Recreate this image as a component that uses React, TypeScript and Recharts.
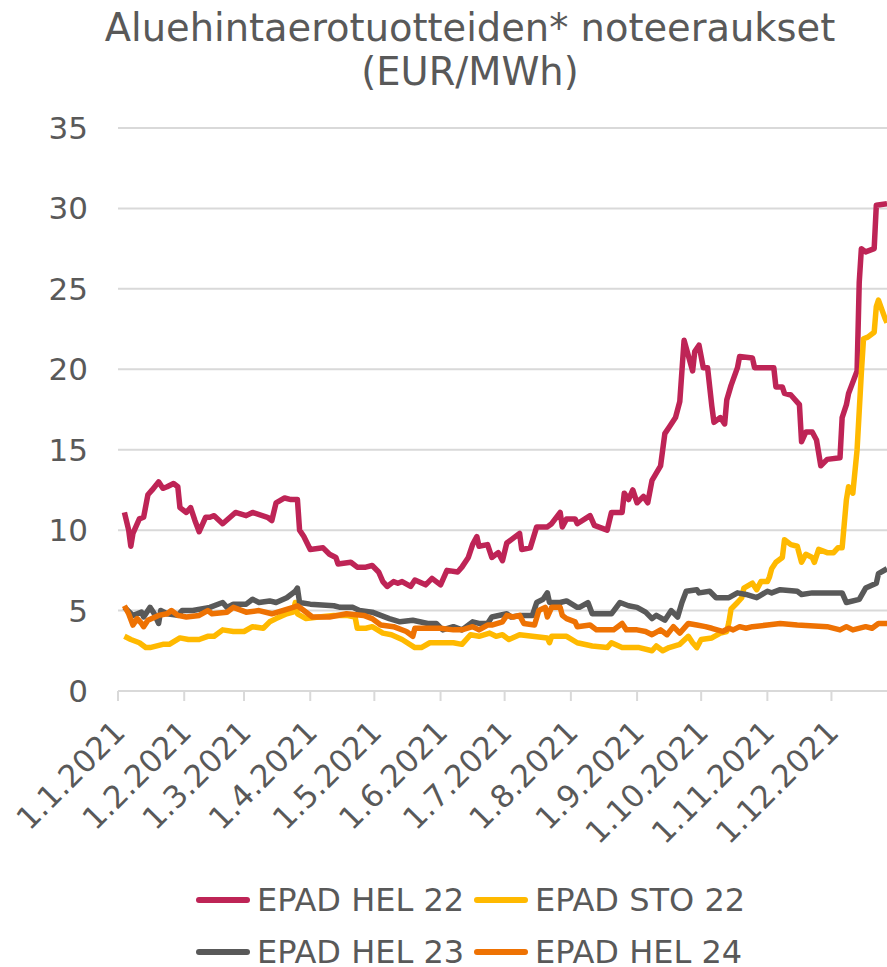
import React from 'react';
import { LineChart, Line, XAxis, YAxis, CartesianGrid } from 'recharts';

// day of year 2021 (0 = 1.1.) and quote in EUR/MWh
const hel22: [number, number][] = [
  [3, 11.1], [5, 10.0], [6, 9.0], [7, 9.8], [10, 10.7], [12, 10.8], [14, 12.2], [16, 12.5], [19, 13.0], [21, 12.6],
  [23, 12.7], [26, 12.9], [28, 12.7], [29, 11.4], [32, 11.1], [34, 11.4], [36, 10.6], [38, 9.9], [41, 10.8], [43, 10.8],
  [45, 10.9], [49, 10.4], [55, 11.1], [60, 10.9], [63, 11.1], [70, 10.8], [72, 10.6], [74, 11.7], [78, 12.0], [81, 11.9],
  [84, 11.9], [85, 10.0], [87, 9.6], [90, 8.8], [96, 8.9], [99, 8.5], [102, 8.3], [103, 7.9], [109, 8.0], [112, 7.7],
  [116, 7.7], [119, 7.8], [122, 7.4], [124, 6.8], [126, 6.5], [129, 6.8], [131, 6.7], [133, 6.8], [137, 6.5], [139, 6.9],
  [144, 6.6], [147, 7.0], [151, 6.6], [154, 7.5], [159, 7.4], [161, 7.7], [164, 8.3], [166, 9.1], [168, 9.6], [169, 9.0],
  [173, 9.1], [175, 8.3], [178, 8.6], [180, 8.1], [182, 9.2], [188, 9.8], [189, 8.8], [193, 8.9], [196, 10.2], [201, 10.2],
  [203, 10.4], [207, 11.1], [208, 10.2], [210, 10.7], [214, 10.7], [215, 10.4], [221, 10.9], [223, 10.3], [229, 10.0], [231, 11.1],
  [236, 11.1], [237, 12.3], [239, 11.9], [241, 12.5], [243, 11.7], [246, 12.1], [248, 11.7], [250, 13.1], [254, 14.0], [256, 16.0],
  [258, 16.4], [261, 17.0], [263, 18.0], [265, 21.8], [269, 19.9], [270, 21.1], [272, 21.5], [274, 20.1], [276, 20.1], [278, 17.7],
  [279, 16.7], [282, 17.0], [284, 16.6], [285, 18.1], [287, 19.0], [290, 20.1], [291, 20.8], [297, 20.7], [298, 20.1], [301, 20.1],
  [307, 20.1], [308, 18.9], [311, 18.9], [312, 18.5], [315, 18.4], [319, 17.8], [320, 15.5], [322, 16.1], [325, 16.1], [327, 15.6],
  [329, 14.0], [332, 14.4], [338, 14.5], [339, 17.0], [341, 17.8], [342, 18.5], [346, 19.9], [347, 25.4], [348, 27.5], [350, 27.3],
  [354, 27.5], [355, 30.2], [360, 30.3],
];

const sto22: [number, number][] = [
  [3, 3.4], [6, 3.2], [10, 3.0], [13, 2.7], [15, 2.7], [21, 2.9], [24, 2.9], [29, 3.3], [33, 3.2], [38, 3.2],
  [42, 3.4], [45, 3.4], [49, 3.8], [54, 3.7], [59, 3.7], [63, 4.0], [68, 3.9], [71, 4.3], [74, 4.5], [79, 4.8],
  [82, 4.9], [83, 5.5], [84, 4.8], [88, 4.5], [94, 4.6], [101, 4.7], [107, 4.7], [111, 4.6], [112, 3.9], [116, 3.9],
  [119, 4.0], [124, 3.6], [128, 3.5], [133, 3.2], [139, 2.7], [142, 2.7], [146, 3.0], [151, 3.0], [157, 3.0], [161, 2.9],
  [165, 3.5], [169, 3.4], [174, 3.6], [177, 3.4], [180, 3.5], [183, 3.2], [188, 3.5], [194, 3.4], [201, 3.3], [202, 3.0],
  [203, 3.4], [210, 3.4], [215, 3.0], [222, 2.8], [229, 2.7], [231, 3.0], [236, 2.7], [244, 2.7], [250, 2.5], [252, 2.8],
  [255, 2.5], [258, 2.7], [263, 2.9], [267, 3.4], [269, 3.0], [271, 2.7], [273, 3.2], [278, 3.3], [282, 3.6], [285, 3.7],
  [286, 4.3], [287, 5.1], [290, 5.5], [292, 5.8], [293, 6.4], [297, 6.7], [299, 6.3], [301, 6.8], [304, 6.8], [305, 7.1],
  [306, 7.6], [308, 8.0], [311, 8.3], [312, 9.4], [315, 9.1], [318, 9.0], [320, 8.0], [322, 8.5], [325, 8.3], [326, 8.0],
  [328, 8.8], [332, 8.6], [335, 8.6], [337, 8.9], [339, 8.9], [340, 10.4], [341, 11.9], [342, 12.7], [344, 12.3], [346, 15.0],
  [348, 19.8], [349, 21.9], [351, 22.0], [354, 22.3], [355, 23.9], [356, 24.3], [359, 23.2], [360, 22.9],
];

const hel23: [number, number][] = [
  [3, 5.2], [7, 4.7], [9, 4.8], [11, 4.9], [12, 4.6], [15, 5.2], [17, 4.8], [19, 4.2], [20, 5.0], [23, 4.8],
  [28, 4.7], [30, 5.0], [35, 5.0], [43, 5.2], [49, 5.5], [51, 5.2], [54, 5.4], [60, 5.4], [63, 5.7], [66, 5.5],
  [71, 5.6], [74, 5.5], [79, 5.8], [83, 6.2], [84, 6.4], [85, 5.5], [90, 5.4], [101, 5.3], [104, 5.2], [110, 5.2],
  [113, 5.0], [119, 4.9], [123, 4.7], [127, 4.5], [132, 4.3], [138, 4.4], [145, 4.2], [149, 4.2], [152, 3.8], [157, 4.0],
  [161, 3.8], [166, 4.3], [169, 4.2], [173, 4.2], [175, 4.6], [182, 4.8], [184, 4.6], [189, 4.7], [194, 4.7], [196, 5.5],
  [199, 5.7], [201, 6.1], [202, 5.5], [207, 5.5], [210, 5.6], [215, 5.2], [216, 5.2], [220, 5.5], [222, 4.8], [231, 4.8],
  [235, 5.5], [239, 5.3], [243, 5.2], [247, 4.9], [250, 4.5], [252, 4.7], [256, 4.4], [259, 5.0], [262, 4.6], [264, 5.5],
  [266, 6.2], [271, 6.3], [272, 6.1], [277, 6.2], [280, 5.8], [286, 5.8], [290, 6.1], [294, 6.0], [299, 5.8], [304, 6.2],
  [306, 6.1], [310, 6.3], [318, 6.2], [320, 6.0], [325, 6.1], [333, 6.1], [339, 6.1], [341, 5.5], [347, 5.7], [350, 6.4],
  [355, 6.7], [356, 7.3], [360, 7.6],
];

const hel24: [number, number][] = [
  [3, 5.3], [5, 4.8], [7, 4.1], [9, 4.5], [11, 4.2], [12, 4.0], [14, 4.4], [19, 4.7], [23, 4.8], [25, 5.0],
  [28, 4.7], [32, 4.6], [38, 4.7], [42, 5.0], [44, 4.8], [51, 4.9], [54, 5.2], [60, 4.9], [66, 5.0], [72, 4.8],
  [77, 5.0], [82, 5.2], [84, 5.3], [87, 5.0], [91, 4.6], [99, 4.6], [107, 4.8], [115, 4.7], [119, 4.5], [123, 4.1],
  [129, 4.0], [135, 3.7], [138, 3.4], [139, 3.9], [145, 3.9], [151, 3.9], [157, 3.8], [161, 3.8], [166, 4.0], [169, 3.8],
  [173, 4.1], [175, 4.1], [180, 4.3], [182, 4.7], [185, 4.6], [188, 4.7], [190, 4.2], [195, 4.1], [197, 5.0], [200, 5.2],
  [201, 4.6], [203, 5.2], [207, 5.2], [208, 4.7], [210, 4.5], [214, 4.3], [215, 4.0], [221, 4.1], [224, 3.8], [232, 3.8],
  [236, 4.2], [238, 3.8], [243, 3.8], [247, 3.7], [250, 3.5], [254, 3.8], [257, 3.5], [260, 4.0], [263, 3.6], [267, 4.2],
  [271, 4.1], [275, 4.0], [278, 3.9], [283, 3.7], [286, 3.9], [288, 3.8], [291, 4.0], [294, 3.9], [297, 4.0], [304, 4.1],
  [310, 4.2], [318, 4.1], [332, 4.0], [338, 3.8], [341, 4.0], [344, 3.8], [350, 4.0], [353, 3.9], [356, 4.2], [360, 4.2],
];

const tickDays = [0, 31, 59, 90, 120, 151, 181, 212, 243, 273, 304, 334];
const tickLabels = ['1.1.2021', '1.2.2021', '1.3.2021', '1.4.2021', '1.5.2021', '1.6.2021', '1.7.2021', '1.8.2021', '1.9.2021', '1.10.2021', '1.11.2021', '1.12.2021'];
const yTicks = [0, 5, 10, 15, 20, 25, 30, 35];

const seriesNames = ['EPAD HEL 22', 'EPAD STO 22', 'EPAD HEL 23', 'EPAD HEL 24'];
const seriesColors = ['#BE2456', '#FFB900', '#595959', '#EE7203'];

const FONT = '"DejaVu Sans", Verdana, sans-serif';
const TEXT = '#595959';

const toRows = (pts: [number, number][]) => pts.map(([d, v]) => ({ d, v }));
const allSeries = [hel22, sto22, hel23, hel24].map(toRows);

const DateTick = (props: any) => {
  const { x, y, index } = props;
  return (
    <g transform={`translate(${x + 9},${y + 31}) rotate(-45)`}>
      <text x={0} y={0} textAnchor="end" fontSize={31} fill={TEXT} fontFamily={FONT}>
        {tickLabels[index]}
      </text>
    </g>
  );
};

export default function App() {
  return (
    <div style={{ position: 'absolute', left: 0, top: 0, width: 887, height: 967, background: '#fff', fontFamily: FONT, overflow: 'hidden' }}>
      <div style={{ position: 'absolute', left: 70, top: 6, width: 800, textAlign: 'center', fontSize: 38.4, lineHeight: '44px', color: TEXT }}>
        Aluehintaerotuotteiden* noteeraukset
        <br />
        (EUR/MWh)
      </div>
      <LineChart width={887} height={967} margin={{ top: 128, right: 0, bottom: 216, left: 0 }}>
        <CartesianGrid vertical={false} stroke="#D9D9D9" strokeWidth={2} />
        <XAxis
          dataKey="d"
          type="number"
          domain={[0, 360]}
          ticks={tickDays}
          interval={0}
          height={60}
          stroke="#D9D9D9"
          strokeWidth={2}
          tickSize={10}
          tick={<DateTick />}
          allowDataOverflow
        />
        <YAxis
          type="number"
          domain={[0, 35]}
          ticks={yTicks}
          width={118}
          axisLine={false}
          tickLine={false}
          tickMargin={24}
          tick={{ fontSize: 31, fill: TEXT, fontFamily: FONT }}
        />
        {allSeries.map((rows, i) => (
          <Line
            key={seriesNames[i]}
            data={rows}
            dataKey="v"
            name={seriesNames[i]}
            type="linear"
            stroke={seriesColors[i]}
            strokeWidth={5.5}
            strokeLinejoin="round"
            dot={false}
            isAnimationActive={false}
          />
        ))}
      </LineChart>
      {[0, 1].map((row) => (
        <div key={row} style={{ position: 'absolute', top: 878 + row * 52, left: 0, height: 44, width: 887 }}>
          {[0, 1].map((col) => {
            const i = row * 2 + col;
            return (
              <div key={i} style={{ position: 'absolute', left: col === 0 ? 196 : 474, top: 0, height: 44, display: 'flex', alignItems: 'center' }}>
                <div style={{ width: 54, height: 6, borderRadius: 3, background: seriesColors[i] }} />
                <span style={{ marginLeft: 7, fontSize: 32, color: TEXT, whiteSpace: 'nowrap' }}>{seriesNames[i]}</span>
              </div>
            );
          })}
        </div>
      ))}
    </div>
  );
}
